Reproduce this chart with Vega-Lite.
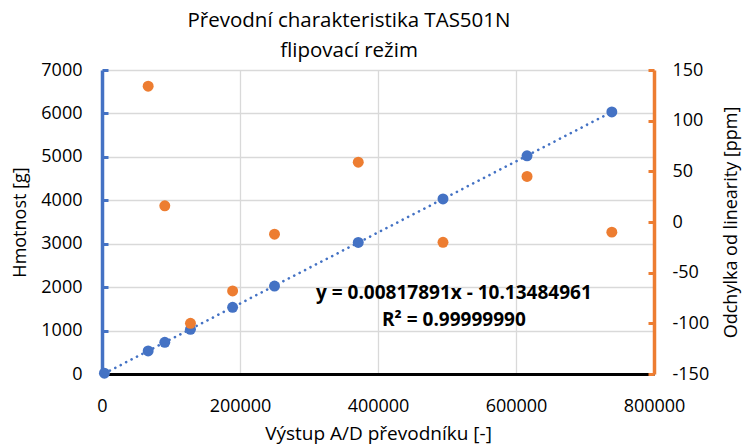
{
  "$schema": "https://vega.github.io/schema/vega-lite/v6.json",
  "width": 552,
  "height": 304,
  "autosize": {"type": "none"},
  "padding": {"left": 102, "top": 70, "right": 88, "bottom": 72},
  "background": "white",
  "config": {
    "font": "Open Sans",
    "view": {"stroke": null},
    "axis": {"labelFont": "Open Sans", "titleFont": "Open Sans", "labelColor": "#000000", "titleColor": "#000000", "titleFontWeight": "normal", "labelFontSize": 18, "titleFontSize": 18, "gridColor": "#D9D9D9", "gridWidth": 1.3, "labelFlush": false}
  },
  "title": {
    "text": ["Převodní charakteristika TAS501N", "flipovací režim"],
    "font": "Open Sans",
    "fontSize": 20.5,
    "fontWeight": "normal",
    "color": "#000000",
    "anchor": "middle",
    "frame": "group",
    "dx": -29,
    "offset": 0,
    "lineHeight": 30
  },
  "data": {
    "values": [
      {"adc": 3500, "mass": 18, "ppm": null},
      {"adc": 66900, "mass": 530, "ppm": 134},
      {"adc": 91000, "mass": 730, "ppm": 16},
      {"adc": 128200, "mass": 1030, "ppm": -100},
      {"adc": 189300, "mass": 1535, "ppm": -68},
      {"adc": 250000, "mass": 2025, "ppm": -12},
      {"adc": 371400, "mass": 3030, "ppm": 59},
      {"adc": 494200, "mass": 4030, "ppm": -20},
      {"adc": 616000, "mass": 5025, "ppm": 45},
      {"adc": 738900, "mass": 6035, "ppm": -10}
    ]
  },
  "encoding": {
    "x": {
      "field": "adc",
      "type": "quantitative",
      "scale": {"domain": [0, 800000], "nice": false},
      "axis": {
        "title": "Výstup A/D převodníku [-]",
        "titleFontSize": 19,
        "values": [0, 200000, 400000, 600000, 800000],
        "format": "d",
        "domainColor": "#000000",
        "domainWidth": 3,
        "ticks": false,
        "labelPadding": 23,
        "titleX": 276,
        "titleY": 59,
        "titleBaseline": "middle",
        "titleAlign": "center",
        "grid": true
      }
    }
  },
  "layer": [
    {
      "encoding": {
        "y": {
          "field": "mass",
          "type": "quantitative",
          "scale": {"domain": [0, 7000], "nice": false},
          "axis": {
            "title": "Hmotnost [g]",
            "values": [0, 1000, 2000, 3000, 4000, 5000, 6000, 7000],
            "format": "d",
            "domainColor": "#4472C4",
            "domainWidth": 3.5,
            "tickColor": "#4472C4",
            "tickWidth": 3,
            "tickSize": -6,
            "labelPadding": 26,
            "titleAngle": 270,
            "titleX": -82,
            "titleY": 152,
            "titleBaseline": "middle",
            "titleAlign": "center",
            "grid": true
          }
        }
      },
      "layer": [
        {
          "transform": [{"regression": "mass", "on": "adc"}],
          "mark": {"type": "line", "color": "#4472C4", "strokeWidth": 2.6, "strokeDash": [0.1, 6], "strokeCap": "round"}
        },
        {
          "mark": {"type": "point", "filled": true, "color": "#4472C4", "size": 120, "opacity": 1}
        },
        {
          "data": {"values": [{"adc": 510000, "mass": 1854, "label": "eq"}]},
          "mark": {
            "type": "text",
            "text": ["y = 0.00817891x  - 10.13484961", "R² = 0.99999990"],
            "font": "Open Sans",
            "fontSize": 19,
            "fontWeight": "bold",
            "color": "#000000",
            "align": "center",
            "baseline": "middle",
            "lineHeight": 27
          }
        }
      ]
    },
    {
      "transform": [{"filter": "datum.ppm != null"}],
      "mark": {"type": "point", "filled": true, "color": "#ED7D31", "size": 120, "opacity": 1},
      "encoding": {
        "y": {
          "field": "ppm",
          "type": "quantitative",
          "scale": {"domain": [-150, 150], "nice": false},
          "axis": {
            "orient": "right",
            "title": "Odchylka od linearity [ppm]",
            "titleAngle": 270,
            "titleX": 77,
            "titleY": 152,
            "titleBaseline": "middle",
            "titleAlign": "center",
            "values": [-150, -100, -50, 0, 50, 100, 150],
            "labelExpr": "'' + datum.value",
            "domainColor": "#ED7D31",
            "domainWidth": 3.5,
            "tickColor": "#ED7D31",
            "tickWidth": 3,
            "tickSize": -6,
            "labelPadding": 24,
            "grid": false
          }
        }
      }
    }
  ],
  "resolve": {"scale": {"y": "independent"}}
}
